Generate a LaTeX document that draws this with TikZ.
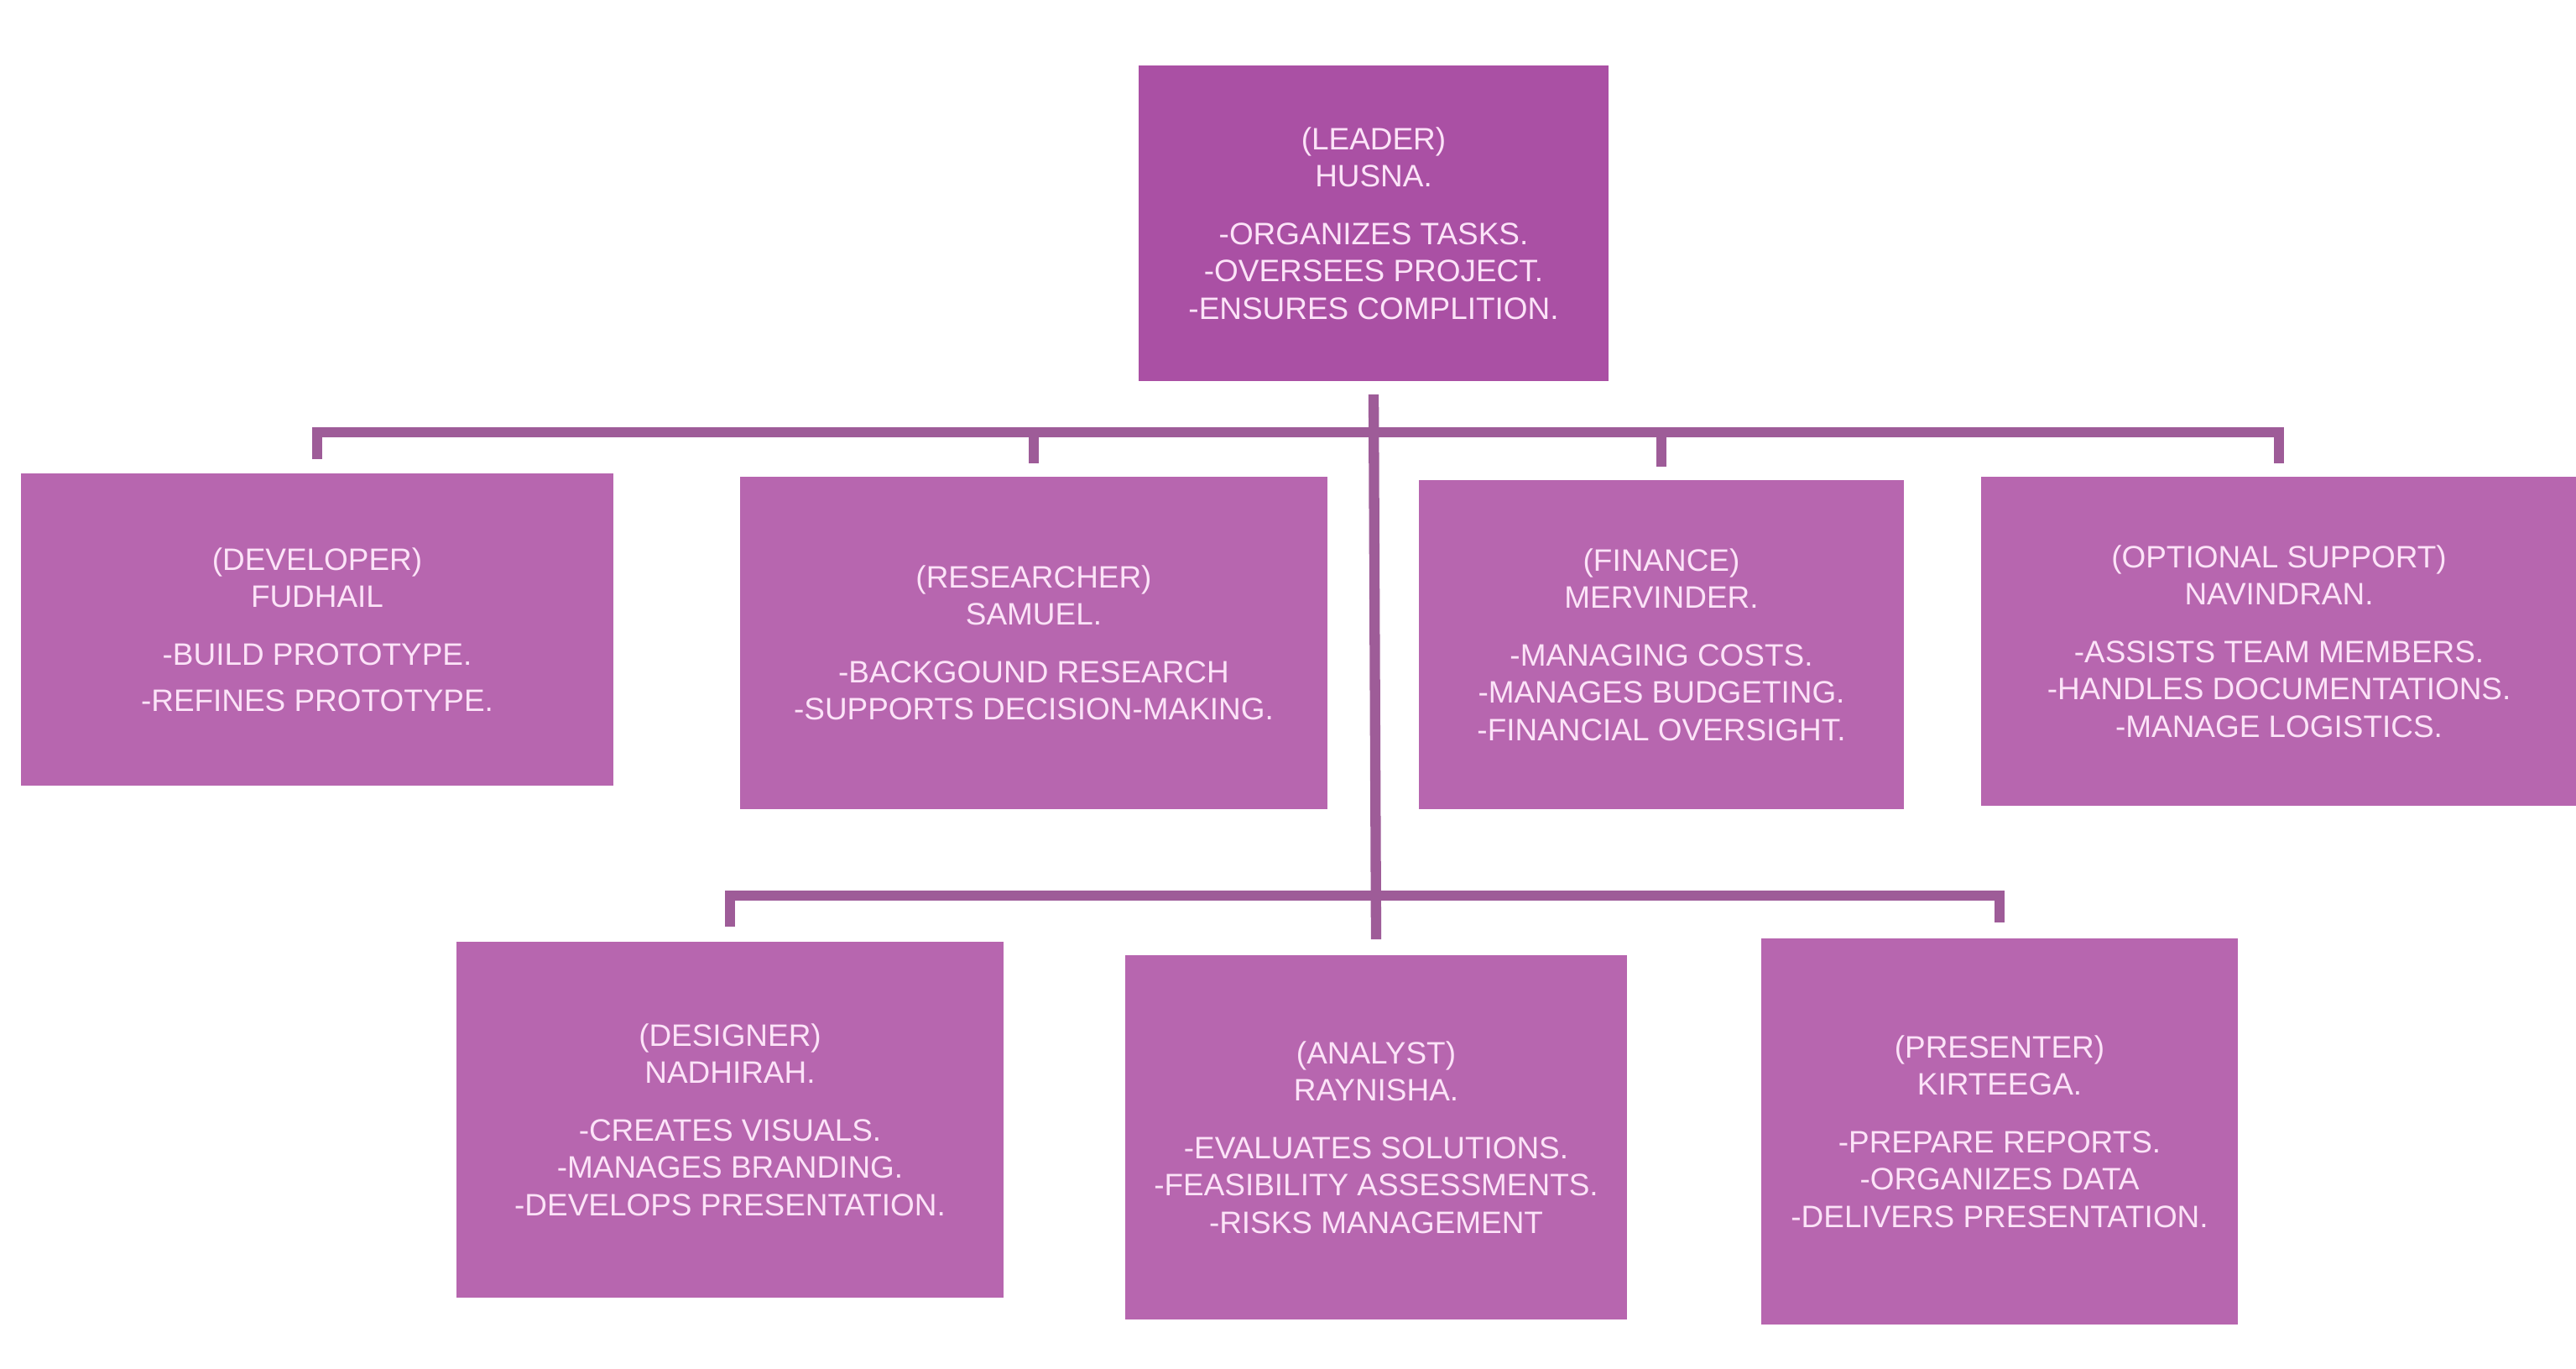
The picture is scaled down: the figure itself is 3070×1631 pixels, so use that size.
\documentclass[tikz,border=0pt]{standalone}
\usepackage{fontspec}
\setmainfont{Liberation Sans}
\definecolor{boxfill}{HTML}{B766AF}
\definecolor{leadfill}{HTML}{AA50A4}
\definecolor{linecol}{HTML}{9E5C98}
\definecolor{txtcol}{HTML}{FCE3F8}
\tikzset{
  rolebox/.style={fill=boxfill, draw=none, text=txtcol, align=center, inner sep=0pt,
    font=\fontsize{10.5}{12.6}\selectfont},
  link/.style={draw=linecol, line width=3.5pt, line join=miter}
}
\begin{document}
\begin{tikzpicture}[x=0.01cm,y=-0.01cm]
\useasboundingbox[fill=white] (0,0) rectangle (3070,1631);

\node[rolebox, fill=leadfill, minimum width=5.60cm, minimum height=3.76cm] (lead) at (1637,266)
  {(LEADER)\\HUSNA.\\[7pt]-ORGANIZES TASKS.\\-OVERSEES PROJECT.\\-ENSURES COMPLITION.};

\node[rolebox, minimum width=7.05cm, minimum height=3.72cm] (dev) at (378,750)
  {(DEVELOPER)\\FUDHAIL\\[7pt]-BUILD PROTOTYPE.\\[3pt]-REFINES PROTOTYPE.};
\node[rolebox, minimum width=6.99cm, minimum height=3.95cm] (res) at (1232,766)
  {(RESEARCHER)\\SAMUEL.\\[7pt]-BACKGOUND RESEARCH\\-SUPPORTS DECISION-MAKING.};
\node[rolebox, minimum width=5.77cm, minimum height=3.91cm] (fin) at (1980,768)
  {(FINANCE)\\MERVINDER.\\[7pt]-MANAGING COSTS.\\-MANAGES BUDGETING.\\-FINANCIAL OVERSIGHT.};
\node[rolebox, minimum width=7.09cm, minimum height=3.91cm] (opt) at (2716,764)
  {(OPTIONAL SUPPORT)\\NAVINDRAN.\\[7pt]-ASSISTS TEAM MEMBERS.\\-HANDLES DOCUMENTATIONS.\\-MANAGE LOGISTICS.};

\node[rolebox, minimum width=6.52cm, minimum height=4.23cm] (des) at (870,1334)
  {(DESIGNER)\\NADHIRAH.\\[7pt]-CREATES VISUALS.\\-MANAGES BRANDING.\\-DEVELOPS PRESENTATION.};
\node[rolebox, minimum width=5.97cm, minimum height=4.34cm] (ana) at (1640,1355)
  {(ANALYST)\\RAYNISHA.\\[7pt]-EVALUATES SOLUTIONS.\\-FEASIBILITY ASSESSMENTS.\\-RISKS MANAGEMENT};
\node[rolebox, minimum width=5.68cm, minimum height=4.60cm] (pre) at (2383,1348)
  {(PRESENTER)\\KIRTEEGA.\\[7pt]-PREPARE REPORTS.\\-ORGANIZES DATA\\-DELIVERS PRESENTATION.};

\coordinate (top) at (1641,515);
\coordinate (low) at (1641,1067);

\draw[link] ([yshift=-0.15cm]lead.south) -- ([yshift=0.18cm]ana.north);
\draw[link] ([yshift=0.16cm]dev.north) |- (top);
\draw[link] ([yshift=0.16cm]res.north) |- (top);
\draw[link] ([yshift=0.16cm]fin.north) |- (top);
\draw[link] ([yshift=0.16cm]opt.north) |- (top);
\draw[link] ([yshift=0.18cm]des.north) |- (low);
\draw[link] ([yshift=0.18cm]pre.north) |- (low);
\end{tikzpicture}
\end{document}
